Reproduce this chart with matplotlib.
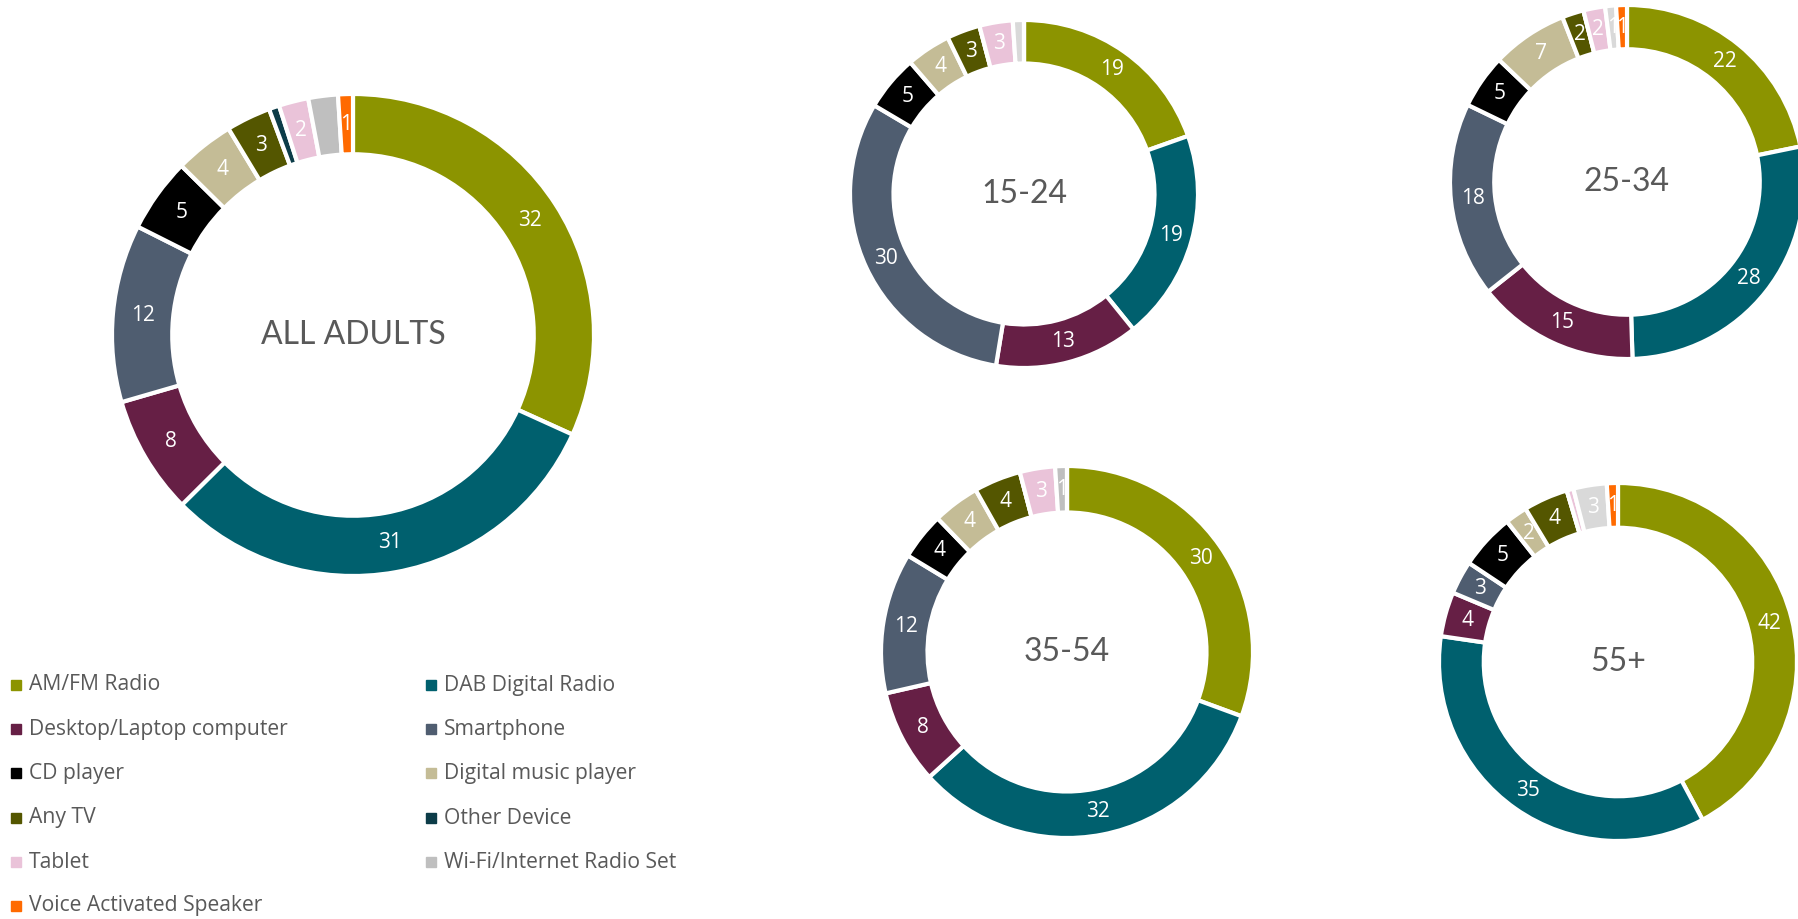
import matplotlib
matplotlib.use('Agg')
import matplotlib.pyplot as plt
import numpy as np

# device categories, in clockwise order from 12 o'clock
categories = ['AM/FM Radio', 'DAB Digital Radio', 'Desktop/Laptop computer',
              'Smartphone', 'CD player', 'Digital music player', 'Any TV',
              'Other Device', 'Tablet', 'Wi-Fi/Internet Radio Set',
              'Voice Activated Speaker']
colors = ['#8C9400', '#00606E', '#661F45', '#4F5D70', '#000000', '#C4BC96',
          '#545600', '#0C3C48', '#EAC3D9', '#BFBFBF', '#FF6A00']

# share of listening by device (%)
all_adults = [32, 31, 8, 12, 5, 4, 3, 0.7, 2, 2, 1]
age_15_24 = [19, 19, 13, 30, 5, 4, 3, 0, 3, 1, 0]
age_25_34 = [22, 28, 15, 18, 5, 7, 2, 0, 2, 1, 1]
age_35_54 = [30, 32, 8, 12, 4, 4, 4, 0, 3, 1, 0]
age_55_plus = [42, 35, 4, 3, 5, 2, 4, 0, 0.6, 3, 1]

# segments drawn without a value label
unlabeled_all = ['Other Device', 'Wi-Fi/Internet Radio Set']
unlabeled_15_24 = ['Wi-Fi/Internet Radio Set']
unlabeled_55 = ['Tablet']

W, H = 1799, 919
fig = plt.figure(figsize=(W / 100, H / 100), dpi=100)

TEXT_GREY = '#595959'
RING = 0.25


def donut(cx, cy, r, values, title, hidden=(), wifi='#BFBFBF', fs=15):
    ax = fig.add_axes([(cx - r) / W, 1 - (cy + r) / H, 2 * r / W, 2 * r / H])
    cols = list(colors)
    cols[9] = wifi
    wedges, _ = ax.pie(values, colors=cols, startangle=90, counterclock=False,
                       radius=1, wedgeprops=dict(width=RING, edgecolor='white',
                                                 linewidth=3))
    for w, v, name in zip(wedges, values, categories):
        if v < 1 or name in hidden:
            continue
        ang = np.deg2rad((w.theta1 + w.theta2) / 2)
        rr = 1 - RING / 2
        ax.text(rr * np.cos(ang), rr * np.sin(ang), f'{v:g}', color='white',
                ha='center', va='center', fontsize=fs, family='Open Sans')
    ax.text(0, 0, title, ha='center', va='center', fontsize=23,
            color=TEXT_GREY, family='Lato')
    ax.set_xlim(-1, 1)
    ax.set_ylim(-1, 1)
    ax.set_aspect('equal')
    ax.axis('off')
    return ax


donut(353, 335, 241, all_adults, 'ALL ADULTS', unlabeled_all)
donut(1024, 194, 174, age_15_24, '15-24', unlabeled_15_24, wifi='#D9D9D9')
donut(1627, 182, 177, age_25_34, '25-34', wifi='#D9D9D9')
donut(1067, 652, 186, age_35_54, '35-54')
donut(1618, 662, 179, age_55_plus, '55+', unlabeled_55, wifi='#D9D9D9')

# legend in two columns under the big donut
row_y = [685, 729, 773, 818, 862, 906]
col_x = [16, 431]
for i, (name, c) in enumerate(zip(categories, colors)):
    x = col_x[i % 2]
    y = row_y[i // 2]
    fig.patches.append(plt.Rectangle(((x - 5) / W, 1 - (y + 5) / H), 10 / W, 10 / H,
                                     transform=fig.transFigure, color=c,
                                     figure=fig))
    fig.text((x + 13) / W, 1 - y / H, name, ha='left', va='center',
             fontsize=15.2, color=TEXT_GREY, family='Open Sans')

fig.savefig('out.png', dpi=100)
